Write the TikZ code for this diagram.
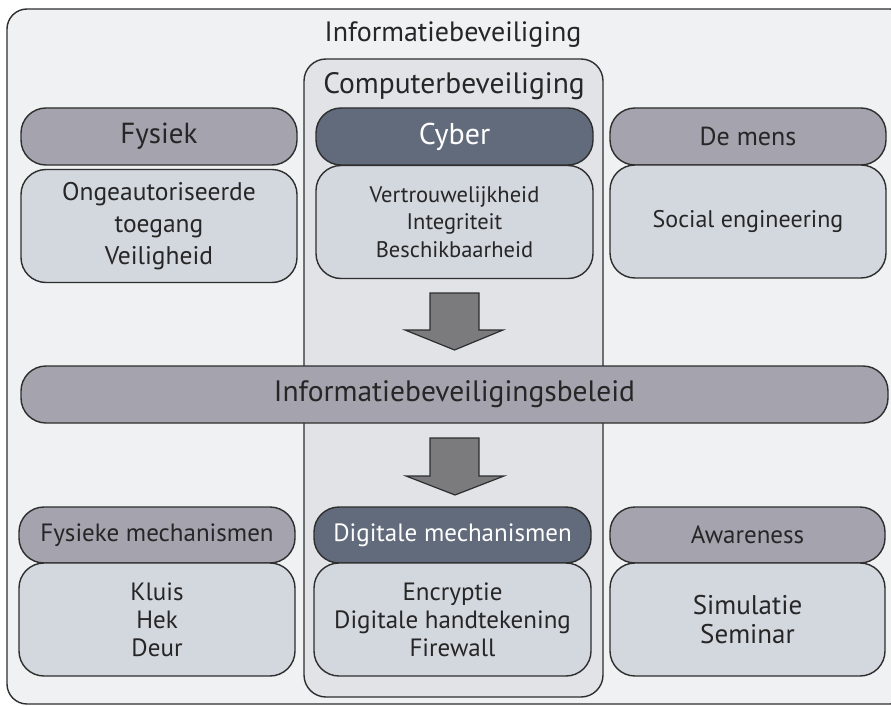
\documentclass[tikz,border=0pt]{standalone}
\usepackage{fontspec}
\setmainfont{PT Sans}
\definecolor{outerfill}{HTML}{F0F1F3}
\definecolor{compfill}{HTML}{E1E3E7}
\definecolor{headfill}{HTML}{A4A3AE}
\definecolor{darkfill}{HTML}{626B7C}
\definecolor{bodyfill}{HTML}{D3D7DE}
\definecolor{arrowfill}{HTML}{7B7B7E}
\definecolor{edge}{HTML}{2E2E2E}
\definecolor{ink}{HTML}{262626}
\newcommand{\fsz}[2]{\fontsize{#1}{#2}\selectfont}
\tikzset{
  box/.style={draw=edge, line width=1.4pt, rounded corners=25pt, inner sep=0pt, align=center, text=ink},
  headbox/.style={box, fill=headfill, minimum height=57pt, font=\fsz{26}{30}},
  darkbox/.style={headbox, fill=darkfill, text=white},
  smallhead/.style={font=\fsz{25}{29}},
  bodybox/.style={box, fill=bodyfill, minimum height=113pt, font=\fsz{25}{28}},
  bigarrow/.style={draw=edge, line width=1.2pt, fill=arrowfill, line join=miter},
  lbl/.style={text=ink, inner sep=0pt}
}
\begin{document}
\begin{tikzpicture}[x=1pt,y=-1pt]
\useasboundingbox (0,0) rectangle (891,706);
% outer frame
\draw[draw=edge, line width=1.4pt, fill=outerfill, rounded corners=20pt] (7,9) rectangle (910,704);
\node[lbl, font=\fsz{28}{30}] (title) at (453,35) {Informatiebeveiliging};
% computer security column
\draw[draw=edge, line width=1.4pt, fill=compfill, rounded corners=22pt] (304,59) rectangle (603,697);
\node[lbl, font=\fsz{29.5}{32}] (comp) at (454,86) {Computerbeveiliging};
% top row
\node[headbox, minimum width=276pt, font=\fsz{29}{30}] (fys) at (159,136.5) {Fysiek};
\node[bodybox, minimum width=276pt, font=\fsz{25.5}{32}] (fysb) at (159,226) {Ongeautoriseerde\\toegang\\Veiligheid};
\node[darkbox, minimum width=277pt, font=\fsz{30}{32}] (cyb) at (454.5,136.5) {Cyber};
\node[bodybox, minimum width=277pt, font=\fsz{22.5}{27.5}] (cybb) at (454.5,222) {Vertrouwelijkheid\\Integriteit\\Beschikbaarheid};
\node[headbox, minimum width=276pt] (mens) at (748,136.5) {De mens};
\node[bodybox, minimum width=276pt, font=\fsz{24}{28}] (mensb) at (748,221.5) {Social engineering};
% policy bar
\node[headbox, minimum width=867pt, font=\fsz{29.5}{32}] (pol) at (454.5,394.5) {Informatiebeveiligingsbeleid};
% bottom row
\node[headbox, smallhead, minimum width=276pt, minimum height=56pt] (fysm) at (157,535) {Fysieke mechanismen};
\node[bodybox, minimum width=276pt] (fysmb) at (157,619.5) {Kluis\\Hek\\Deur};
\node[darkbox, smallhead, minimum width=277pt, minimum height=56pt] (dig) at (452.5,535) {Digitale mechanismen};
\node[bodybox, minimum width=277pt] (digb) at (452.5,619.5) {Encryptie\\Digitale handtekening\\Firewall};
\node[headbox, smallhead, minimum width=275pt, minimum height=56pt] (awa) at (747.5,535) {Awareness};
\node[bodybox, minimum width=275pt, font=\fsz{27}{29}] (awab) at (747.5,619.5) {Simulatie\\Seminar};
% block arrows
\draw[bigarrow] (430,293) -- (479,293) -- (479,330) -- (503,330) -- (454.5,350) -- (405,330) -- (430,330) -- cycle;
\draw[bigarrow] (430,438) -- (479,438) -- (479,476) -- (504,476) -- (455,495) -- (406,476) -- (430,476) -- cycle;
\end{tikzpicture}
\end{document}
